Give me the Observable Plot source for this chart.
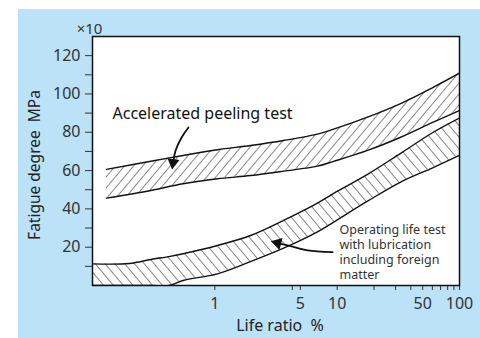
<!DOCTYPE html>
<html>
<head>
<meta charset="utf-8">
<script src="https://cdn.jsdelivr.net/npm/d3@7"></script>
<script src="https://cdn.jsdelivr.net/npm/@observablehq/plot@0.6"></script>
<style>
  html, body { margin: 0; padding: 0; background: #ffffff; }
  #panel { position: absolute; left: 18px; top: 9px; width: 462px; height: 329px; background: #bbe2f7; }
  #panel svg { display: block; }
</style>
</head>
<body>
<div id="panel"></div>
<script>
// ---- data ----
// Accelerated peeling test band
const acX    = [0.13, 0.3, 0.55, 1.05, 1.96, 3.65, 6.9, 9.35, 17.7, 33, 61, 100];
const acHigh = [60.6, 64.9, 67.9, 70.9, 73.1, 75.7, 79.0, 81.6, 87.9, 95.0, 103.5, 110.9];
const acLow  = [45.6, 49.6, 53.1, 55.7, 57.4, 59.7, 62.3, 64.8, 70.5, 77.4, 85.3, 91.4];

// Operating life test (lubrication with foreign matter) band
const opX    = [0.1, 0.2, 0.3, 0.42, 0.55, 1.05, 1.96, 3.65, 6.9, 9.3, 17.7, 33, 61, 100];
const opHigh = [11.3, 11.5, 13.6, 15.1, 16.6, 20.9, 26.1, 34, 43, 48, 58, 69, 80, 87.5];
const opLow  = [0, 0, 0, 0, 2.6, 6.1, 12.5, 19.5, 28, 33, 44, 54, 61.6, 68];

// annotation arrows (shaft points, then head)
const arrow1X = [0.609, 0.535, 0.478, 0.46];
const arrow1Y = [82.5, 77.3, 70.5, 65.3];
const arrow2X = [9.17, 5.73, 4.16, 3.38];
const arrow2Y = [17.4, 18.3, 20.6, 21.9];
const headX = [0.455, 3.26];
const headY = [64.2, 22.2];
const headAngle = [188, -76];

// ticks
const xTicks = [1, 4.3, 5, 10, 20, 30, 40, 50, 60, 70, 80, 90, 100];
const xTickLabels = [1, 5, 10, 50, 100];
const yTicks = [10, 20, 30, 40, 50, 60, 70, 80, 90, 100, 110, 120];
const yTickLabels = [20, 40, 60, 80, 100, 120];

// texts
const yLabel = "Fatigue degree  MPa";
const xLabel = "Life ratio  %";
const unitLabel = "×10";
const acLabel = "Accelerated peeling test";
const opLabel = "Operating life test\nwith lubrication\nincluding foreign\nmatter";

// ---- tables ----
const acData = acX.map((x, i) => ({x, hi: acHigh[i], lo: acLow[i]}));
const opData = opX.map((x, i) => ({x, hi: opHigh[i], lo: opLow[i]}));
const arrow1 = arrow1X.map((x, i) => ({x, y: arrow1Y[i]}));
const arrow2 = arrow2X.map((x, i) => ({x, y: arrow2Y[i]}));
const heads = headX.map((x, i) => ({x, y: headY[i], a: headAngle[i]}));

const font = "'Noto Sans', 'Open Sans', sans-serif";
const curve = "catmull-rom";

const chart = Plot.plot({
  width: 462,
  height: 329,
  marginLeft: 74,
  marginTop: 27,
  marginRight: 21,
  marginBottom: 53,
  style: {background: "transparent", fontFamily: font, fontSize: "16px", color: "#333", overflow: "visible"},
  x: {type: "log", domain: [0.1, 100], ticks: xTicks, tickSize: 5, tickPadding: 4,
      tickFormat: () => "", label: null},
  y: {domain: [0, 130], ticks: yTicks, tickSize: 7, tickPadding: 5,
      tickFormat: d => yTickLabels.includes(d) ? String(d) : "", label: null},
  marks: [
    Plot.frame({fill: "white"}),
    Plot.areaY(acData, {x: "x", y1: "lo", y2: "hi", fill: "url(#hatchA)", curve, clip: true}),
    Plot.areaY(opData, {x: "x", y1: "lo", y2: "hi", fill: "url(#hatchB)", curve, clip: true}),
    Plot.line(acData, {x: "x", y: "hi", stroke: "#111", strokeWidth: 1.4, curve, clip: true}),
    Plot.line(acData, {x: "x", y: "lo", stroke: "#111", strokeWidth: 1.4, curve, clip: true}),
    Plot.line(opData, {x: "x", y: "hi", stroke: "#111", strokeWidth: 1.4, curve, clip: true}),
    Plot.line(opData, {x: "x", y: "lo", stroke: "#111", strokeWidth: 1.4, curve, clip: true}),
    Plot.line(arrow1, {x: "x", y: "y", stroke: "#111", strokeWidth: 1.8, curve: "natural"}),
    Plot.line(arrow2, {x: "x", y: "y", stroke: "#111", strokeWidth: 1.8, curve: "natural"}),
    Plot.dot(heads, {x: "x", y: "y", symbol: "triangle", r: 4.5, fill: "#111", stroke: "none", rotate: "a"}),
    Plot.text(xTickLabels, {x: d => d, text: d => String(d), frameAnchor: "bottom", dy: 18,
      textAnchor: "middle", lineAnchor: "middle", fill: "#333", fontSize: 16}),
    Plot.text([acLabel], {text: d => d, frameAnchor: "top-left", dx: 20, dy: 71, textAnchor: "start",
      fill: "#111", fontSize: 16}),
    Plot.text([opLabel], {text: d => d, frameAnchor: "top-left", dx: 247, dy: 187, textAnchor: "start",
      lineAnchor: "top", lineHeight: 1.2, fill: "#333", fontSize: 12.5}),
    Plot.text([yLabel], {text: d => d, frameAnchor: "left", rotate: -90, dx: -57, dy: 4,
      textAnchor: "middle", lineAnchor: "middle", fill: "#222", fontSize: 15.5}),
    Plot.text([xLabel], {text: d => d, frameAnchor: "bottom", dx: 4, dy: 40,
      textAnchor: "middle", lineAnchor: "middle", fill: "#222", fontSize: 16}),
    Plot.text([unitLabel], {text: d => d, frameAnchor: "top-left", dx: -3, dy: -7,
      textAnchor: "middle", lineAnchor: "middle", fill: "#333", fontSize: 15}),
    Plot.frame({stroke: "#111", strokeWidth: 1.5})
  ]
});

const ns = "http://www.w3.org/2000/svg";
const svg = chart.tagName.toLowerCase() === "svg" ? chart : chart.querySelector("svg");
const defs = document.createElementNS(ns, "defs");
defs.innerHTML =
  '<pattern id="hatchA" patternUnits="userSpaceOnUse" width="7" height="7" patternTransform="rotate(40)">' +
  '<line x1="0" y1="-1" x2="0" y2="8" stroke="#111" stroke-width="1"/></pattern>' +
  '<pattern id="hatchB" patternUnits="userSpaceOnUse" width="7.5" height="7.5" patternTransform="rotate(-40)">' +
  '<line x1="0" y1="-1" x2="0" y2="8.5" stroke="#111" stroke-width="1"/></pattern>';
svg.insertBefore(defs, svg.firstChild);
document.getElementById("panel").appendChild(chart);
</script>
</body>
</html>
